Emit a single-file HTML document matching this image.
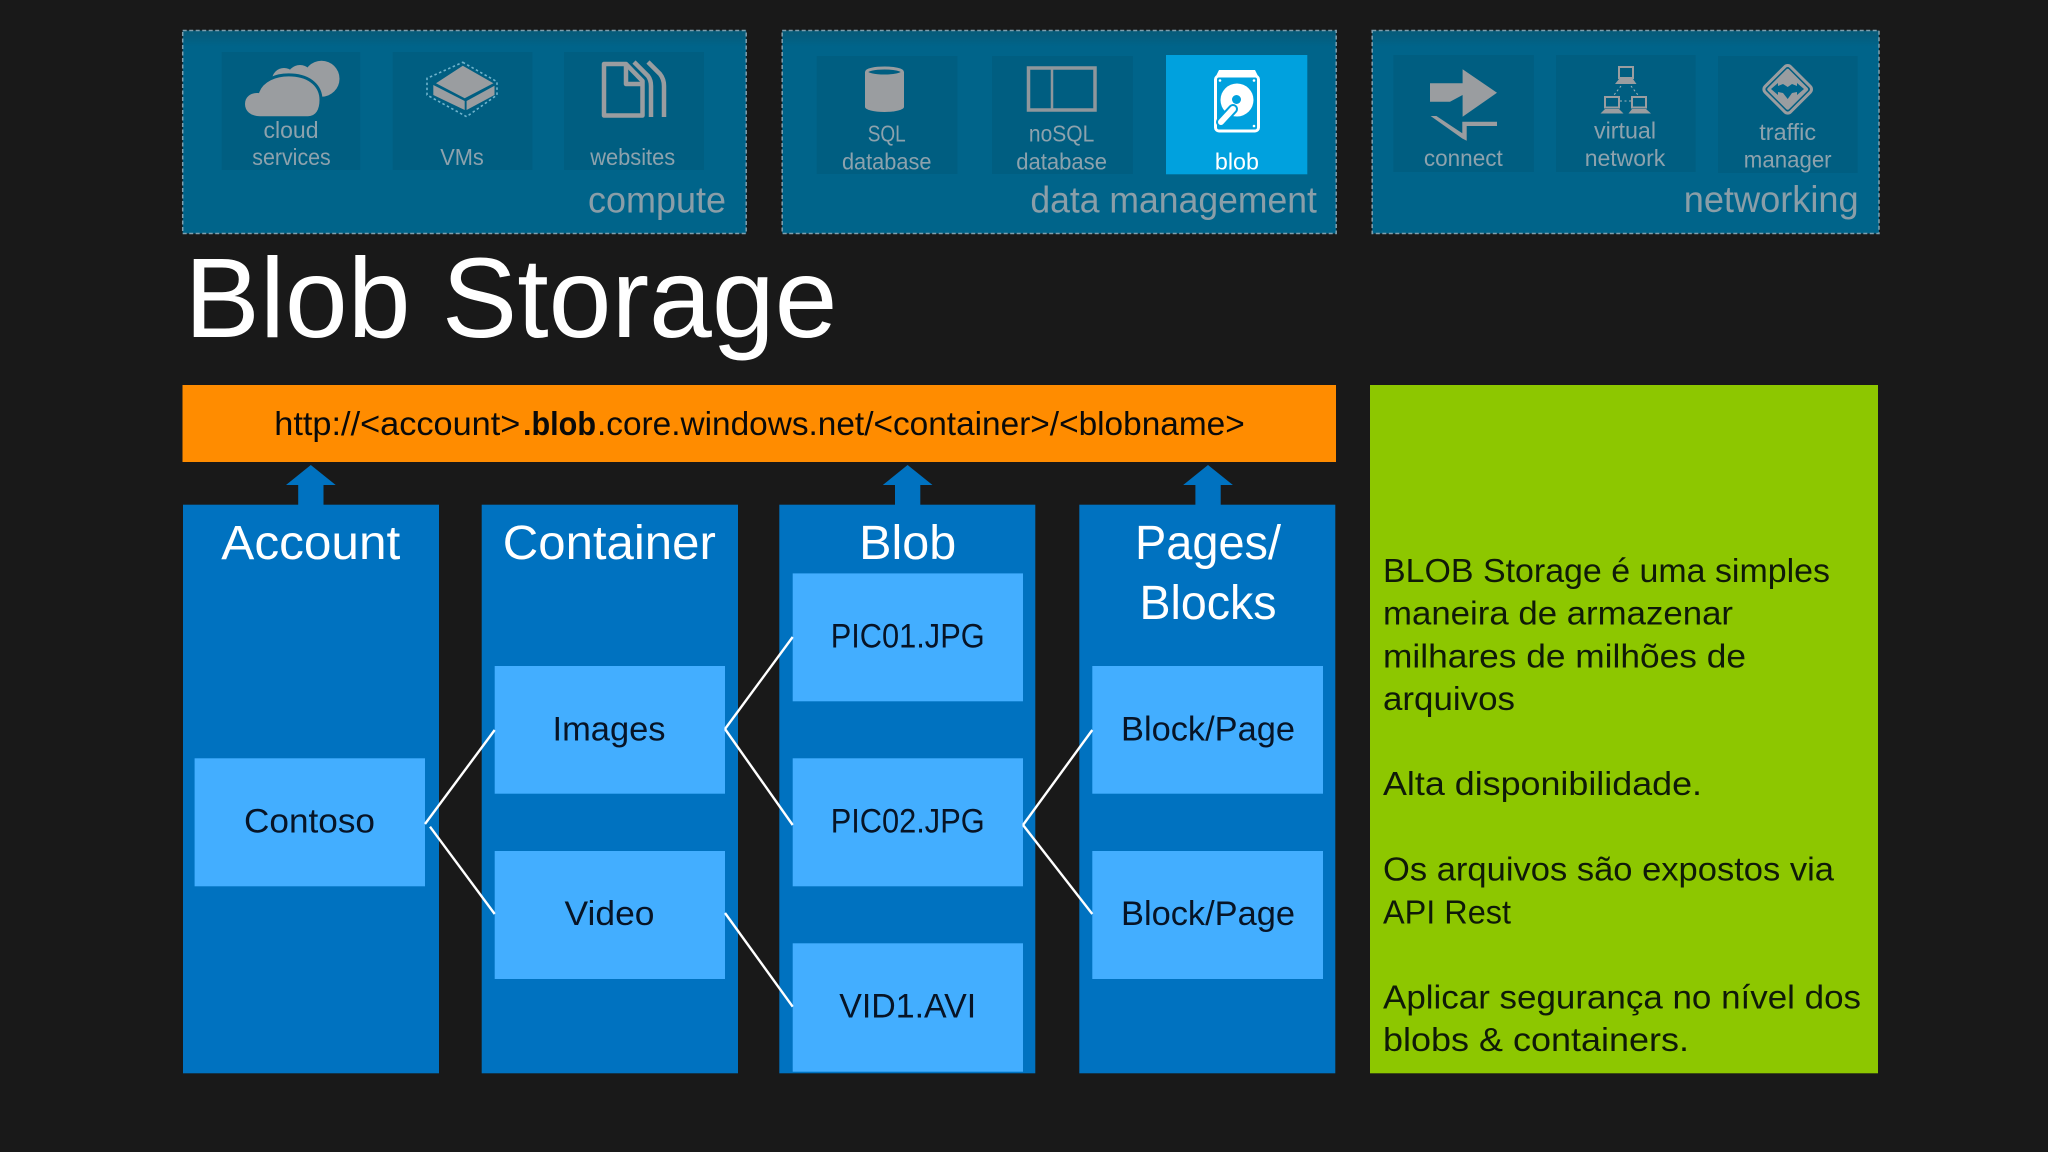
<!DOCTYPE html>
<html><head><meta charset="utf-8"><title>Blob Storage</title>
<style>html,body{margin:0;padding:0;background:#191919;width:2048px;height:1152px;overflow:hidden}svg{display:block}
text{font-family:"Liberation Sans",sans-serif}</style></head><body>
<svg xmlns="http://www.w3.org/2000/svg" width="2048" height="1152" viewBox="0 0 2048 1152">
<defs><linearGradient id="pg" x1="0" y1="0" x2="0" y2="1"><stop offset="0" stop-color="#075a78"/><stop offset=".08" stop-color="#00648a"/><stop offset="1" stop-color="#00648a"/></linearGradient></defs>
<rect width="2048" height="1152" fill="#191919"/>
<!-- panels -->
<g fill="url(#pg)" stroke="#7f9fae" stroke-width="1.5" stroke-dasharray="4 2.5">
<rect x="182.7" y="30.5" width="563.5" height="203"/>
<rect x="782.2" y="30.5" width="554" height="203"/>
<rect x="1372.2" y="30.5" width="506.8" height="203"/>
</g>
<g fill="#005e81">
<rect x="221.7" y="52" width="138.5" height="118"/>
<rect x="392.7" y="52" width="139.7" height="118"/>
<rect x="564" y="52" width="140" height="118"/>
<rect x="816.7" y="56" width="140.8" height="118"/>
<rect x="992" y="56" width="140.8" height="118"/>
<rect x="1393.4" y="55" width="140.5" height="117"/>
<rect x="1556" y="55" width="139.7" height="117"/>
<rect x="1718" y="56" width="139.6" height="117"/>
</g>
<rect x="1166" y="55" width="141.3" height="119.3" fill="#00a1de"/>
<!-- cloud icon -->
<g fill="#9a9da0">
<circle cx="321.5" cy="78.7" r="18"/><circle cx="300" cy="78" r="13"/><circle cx="284" cy="80" r="12"/>
<path d="M260 117.7C250 117.7 243.5 112 243.5 104C243.5 96 250 91 258 91.5C262 81 275 74 292 75C310 76 321 86 321 100C321 110 317 117.7 308 117.7Z" stroke="#005e81" stroke-width="3"/>
</g>
<!-- VM icon -->
<polygon points="462.8,62.3 497,81.7 497,95 466.6,116.7 427,95 427,78.3" fill="none" stroke="#6fb3cc" stroke-width="1.6" stroke-dasharray="2.5 2.5"/>
<g fill="#9a9da0">
<polygon points="462.8,65.7 493.4,83.3 464.7,98.3 436,83.3"/>
<polygon points="433.3,85 464.7,101 464.7,110 433.3,95"/>
<polygon points="466.6,101 494.5,85.7 494.5,95 466.6,110"/>
</g>
<!-- websites icon -->
<g fill="none" stroke="#9a9da0" stroke-width="4.5" stroke-linejoin="round">
<path d="M604 64H626L642.5 81V115.5H604Z"/><path d="M626 64V84H642.5"/>
<path d="M634 62L648 76Q651 80 651 86V117"/><path d="M648 62L660 74Q664 79 664 86V117"/>
</g>
<!-- SQL icon -->
<rect x="865" y="72" width="39" height="35" fill="#9a9da0"/>
<ellipse cx="884.5" cy="107" rx="19.5" ry="5" fill="#9a9da0"/>
<ellipse cx="884.5" cy="72" rx="18" ry="4" fill="#005e81" stroke="#9a9da0" stroke-width="3"/>
<!-- noSQL icon -->
<rect x="1028.5" y="68" width="66.5" height="42" fill="none" stroke="#8f979c" stroke-width="3.5"/>
<line x1="1052" y1="68" x2="1052" y2="110" stroke="#8f979c" stroke-width="2.5"/>
<!-- blob icon -->
<path d="M1219 70H1255L1258 76H1216Z" fill="#fff"/>
<rect x="1215.5" y="76" width="43" height="55" rx="3.5" fill="#00a1de" stroke="#fff" stroke-width="3"/>
<circle cx="1237" cy="100" r="16.5" fill="#fff"/><circle cx="1236.5" cy="99.5" r="4.5" fill="#00a1de"/>
<line x1="1233" y1="109" x2="1221" y2="122" stroke="#00a1de" stroke-width="10" stroke-linecap="round"/>
<line x1="1233" y1="109" x2="1221" y2="122" stroke="#fff" stroke-width="6" stroke-linecap="round"/>
<circle cx="1220" cy="80.5" r="1.3" fill="#fff"/><circle cx="1254" cy="80.5" r="1.3" fill="#fff"/><circle cx="1254" cy="126" r="1.3" fill="#fff"/>
<!-- connect icon -->
<g fill="#9a9da0">
<polygon points="1430,83.3 1462.6,83.3 1462.6,69.3 1497,92.7 1462.6,116.7 1462.6,95 1450,101.7 1430,101.7"/>
<polygon points="1430.6,116 1436.4,116 1462.3,133.3 1462.3,121.7 1497,121.7 1497,126 1466.7,126 1466.7,140.7 1462.3,138.5"/>
</g>
<!-- network icon -->
<g fill="none" stroke="#9a9da0" stroke-width="2">
<rect x="1619" y="67" width="14" height="11"/><rect x="1605" y="97" width="14" height="10.5"/><rect x="1632" y="97" width="14" height="10.5"/>
</g>
<g fill="#9a9da0">
<polygon points="1619,79 1633,79 1636.5,84 1615,84"/>
<polygon points="1605,109 1619,109 1623.5,113.5 1600.5,113.5"/>
<polygon points="1632,109 1646,109 1651,113.5 1628.5,113.5"/>
</g>
<g stroke="#9fb4bd" stroke-width="1" stroke-dasharray="2 2.5"><line x1="1621" y1="86" x2="1614" y2="95"/><line x1="1631" y1="86" x2="1638" y2="95"/><line x1="1620" y1="101" x2="1631" y2="101"/></g>
<!-- traffic icon -->
<rect x="1769.7" y="71.3" width="36" height="36" rx="4" transform="rotate(45 1787.7 89.3)" fill="#005e81" stroke="#9a9da0" stroke-width="3"/>
<rect x="1772.7" y="74.3" width="30" height="30" rx="2" transform="rotate(45 1787.7 89.3)" fill="#9a9da0"/>
<polygon points="1771,89 1778,83 1778,86 1783,84 1787.7,87 1792,84 1797,86 1797,83 1804,89 1797,95 1797,92 1792,93 1787.7,99 1783,93 1778,92 1778,95" fill="#00648a"/>
<!-- panel text -->
<g fill="#8da2ad" font-size="23" text-anchor="middle">
<text x="291" y="138" textLength="55" lengthAdjust="spacingAndGlyphs">cloud</text>
<text x="291.5" y="165" textLength="78.5" lengthAdjust="spacingAndGlyphs">services</text>
<text x="462" y="165" textLength="43.6" lengthAdjust="spacingAndGlyphs">VMs</text>
<text x="632.7" y="165" textLength="85" lengthAdjust="spacingAndGlyphs">websites</text>
<text x="886.7" y="141.7" textLength="38" lengthAdjust="spacingAndGlyphs">SQL</text>
<text x="886.7" y="169.3" textLength="89.5" lengthAdjust="spacingAndGlyphs">database</text>
<text x="1061.6" y="141.7" textLength="65.4" lengthAdjust="spacingAndGlyphs">noSQL</text>
<text x="1061.6" y="169.3" textLength="90.7" lengthAdjust="spacingAndGlyphs">database</text>
<text x="1463.3" y="166" textLength="78.9" lengthAdjust="spacingAndGlyphs">connect</text>
<text x="1625" y="138.3" textLength="62" lengthAdjust="spacingAndGlyphs">virtual</text>
<text x="1625" y="166" textLength="80.6" lengthAdjust="spacingAndGlyphs">network</text>
<text x="1787.7" y="140" textLength="56.8" lengthAdjust="spacingAndGlyphs">traffic</text>
<text x="1787.7" y="167.7" textLength="87.8" lengthAdjust="spacingAndGlyphs">manager</text>
</g>
<text x="1236.9" y="169.3" fill="#fff" font-size="23" text-anchor="middle" textLength="44" lengthAdjust="spacingAndGlyphs">blob</text>
<g fill="#8a9ea8" font-size="37">
<text x="588" y="212.7" textLength="138" lengthAdjust="spacingAndGlyphs">compute</text>
<text x="1030.4" y="212.7" textLength="286.5" lengthAdjust="spacingAndGlyphs">data management</text>
<text x="1683.7" y="212" textLength="175" lengthAdjust="spacingAndGlyphs">networking</text>
</g>
<!-- title -->
<text x="184.5" y="337" fill="#fff" font-size="113" textLength="653" lengthAdjust="spacingAndGlyphs">Blob Storage</text>
<!-- url bar -->
<rect x="182.5" y="385" width="1153.5" height="77" fill="#ff8c00"/>
<g fill="#0a0a0a" font-size="33">
<text x="274.3" y="435" textLength="246" lengthAdjust="spacingAndGlyphs">http://&lt;account&gt;</text>
<text x="523" y="435" font-weight="bold" textLength="73" lengthAdjust="spacingAndGlyphs">.blob</text>
<text x="597" y="435" textLength="647.7" lengthAdjust="spacingAndGlyphs">.core.windows.net/&lt;container&gt;/&lt;blobname&gt;</text>
</g>
<!-- up arrows -->
<g fill="#0072c0">
<polygon points="298.2,505 298.2,485 286,485 310.8,465 335.7,485 323.5,485 323.5,505"/>
<polygon points="895,505 895,485 882.8,485 907.6,465 932.5,485 920.3,485 920.3,505"/>
<polygon points="1195.4,505 1195.4,485 1183.2,485 1208,465 1232.9,485 1220.7,485 1220.7,505"/>
</g>
<!-- columns -->
<g fill="#0072c0">
<rect x="183" y="504.7" width="256" height="568.6"/>
<rect x="481.7" y="504.7" width="256.3" height="568.6"/>
<rect x="779.3" y="504.7" width="256" height="568.6"/>
<rect x="1079.3" y="504.7" width="256" height="568.6"/>
</g>
<rect x="1370" y="385" width="508" height="688.3" fill="#8dc700"/>
<!-- boxes -->
<g fill="#43aeff">
<rect x="194.6" y="758.3" width="230.4" height="128"/>
<rect x="494.7" y="666" width="230.3" height="127.7"/>
<rect x="494.7" y="851" width="230.3" height="128"/>
<rect x="792.7" y="573.4" width="230.3" height="127.9"/>
<rect x="792.7" y="758.3" width="230.3" height="128"/>
<rect x="792.7" y="943.3" width="230.3" height="128.4"/>
<rect x="1092.3" y="666" width="230.7" height="127.7"/>
<rect x="1092.3" y="851" width="230.7" height="128"/>
</g>
<!-- connectors -->
<g stroke="#fff" stroke-width="2.4" fill="none">
<line x1="425" y1="824" x2="494.7" y2="730"/>
<line x1="430" y1="826.7" x2="494.7" y2="914"/>
<line x1="725" y1="729" x2="792.7" y2="637"/>
<line x1="725" y1="729" x2="792.7" y2="825"/>
<line x1="725" y1="913" x2="792.7" y2="1006.7"/>
<line x1="1023" y1="825" x2="1092.3" y2="730"/>
<line x1="1023" y1="825" x2="1092.3" y2="914"/>
</g>
<!-- column headers -->
<g fill="#fff" font-size="48" text-anchor="middle">
<text x="310.8" y="559" textLength="179" lengthAdjust="spacingAndGlyphs">Account</text>
<text x="609.3" y="559" textLength="213" lengthAdjust="spacingAndGlyphs">Container</text>
<text x="907.7" y="559" textLength="97" lengthAdjust="spacingAndGlyphs">Blob</text>
<text x="1208" y="559" textLength="146" lengthAdjust="spacingAndGlyphs">Pages/</text>
<text x="1208" y="619" textLength="137" lengthAdjust="spacingAndGlyphs">Blocks</text>
</g>
<!-- box labels -->
<g fill="#071426" font-size="34" text-anchor="middle">
<text x="309.5" y="832.7" textLength="131" lengthAdjust="spacingAndGlyphs">Contoso</text>
<text x="609" y="740.7" textLength="113" lengthAdjust="spacingAndGlyphs">Images</text>
<text x="609.5" y="925" textLength="90" lengthAdjust="spacingAndGlyphs">Video</text>
<text x="907.7" y="647.7" textLength="154" lengthAdjust="spacingAndGlyphs">PIC01.JPG</text>
<text x="907.7" y="832.7" textLength="154" lengthAdjust="spacingAndGlyphs">PIC02.JPG</text>
<text x="907.7" y="1017.7" textLength="137" lengthAdjust="spacingAndGlyphs">VID1.AVI</text>
<text x="1208" y="740.7" textLength="174" lengthAdjust="spacingAndGlyphs">Block/Page</text>
<text x="1208" y="925" textLength="174" lengthAdjust="spacingAndGlyphs">Block/Page</text>
</g>
<!-- green text -->
<g fill="#0f1a08" font-size="33">
<text x="1383" y="582" textLength="447" lengthAdjust="spacingAndGlyphs">BLOB Storage é uma simples</text>
<text x="1383" y="624.7" textLength="350" lengthAdjust="spacingAndGlyphs">maneira de armazenar</text>
<text x="1383" y="667.3" textLength="363" lengthAdjust="spacingAndGlyphs">milhares de milhões de</text>
<text x="1383" y="710" textLength="132" lengthAdjust="spacingAndGlyphs">arquivos</text>
<text x="1383" y="795" textLength="319" lengthAdjust="spacingAndGlyphs">Alta disponibilidade.</text>
<text x="1383" y="880.7" textLength="451" lengthAdjust="spacingAndGlyphs">Os arquivos são expostos via</text>
<text x="1383" y="923.3" textLength="128" lengthAdjust="spacingAndGlyphs">API Rest</text>
<text x="1383" y="1008.3" textLength="478" lengthAdjust="spacingAndGlyphs">Aplicar segurança no nível dos</text>
<text x="1383" y="1051" textLength="306" lengthAdjust="spacingAndGlyphs">blobs &amp; containers.</text>
</g>
</svg>
</body></html>
